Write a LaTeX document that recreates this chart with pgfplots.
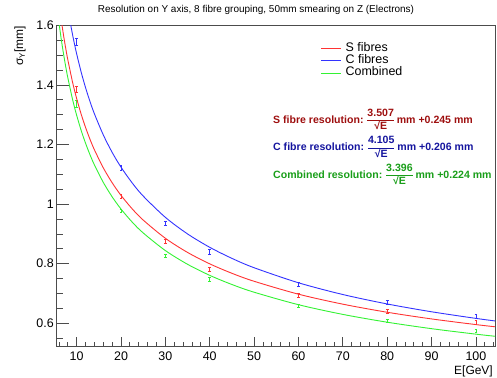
\documentclass[border=0pt]{standalone}
\usepackage{fontspec}
\setmainfont{Liberation Sans}
\usepackage{pgfplots}
\pgfplotsset{compat=1.18}
\definecolor{sdark}{rgb}{0.62,0.06,0.06}
\definecolor{cdark}{rgb}{0.08,0.08,0.62}
\definecolor{gdark}{rgb}{0.1,0.62,0.1}
\definecolor{cred}{rgb}{1,0.2,0.2}
\definecolor{cblue}{rgb}{0.2,0.2,1}
\definecolor{cgreen}{rgb}{0.2,0.95,0.2}
\setlength\arrayrulewidth{1.1bp}
\newcommand\fr[2]{\begin{tabular}[c]{@{}c@{}}#1\\\hline #2\end{tabular}}
\begin{document}
\begin{tikzpicture}
\begin{axis}[
  at={(0,0)}, anchor=south west,
  scale only axis, width=438.3bp, height=321.4bp,
  xmin=5.5, xmax=104.3, ymin=0.5215, ymax=1.6,
  axis line style={draw=black!70, line width=0.8bp},
  tick align=inside, xtick pos=bottom, ytick pos=left,
  xtick={10,20,30,40,50,60,70,80,90,100},
  minor xtick={6,8,...,104},
  ytick={0.6,0.8,1,1.2,1.4,1.6},
  minor ytick={0.55,0.6,...,1.6},
  tick style={draw=black!70, line width=0.8bp},
  major tick length=12bp, minor tick length=6bp,
  xtick style={/pgfplots/major tick length=10bp, /pgfplots/minor tick length=5bp},
  /pgf/number format/assume math mode=true,
  /pgf/number format/fixed,
  ticklabel style={font=\fontsize{12.5}{14}\selectfont},
  yticklabel style={inner sep=0pt, xshift=-2.7bp},
  xticklabel style={inner sep=0pt, yshift=-5bp},
  every axis title shift=0pt,
  title={Resolution on Y axis, 8 fibre grouping, 50mm smearing on Z (Electrons)},
  title style={at={(axis description cs:0.4547,1.0405)}, anchor=base, font=\fontsize{10}{12}\selectfont, inner sep=0pt},
  xlabel={E[GeV]},
  xlabel style={at={(axis description cs:0.9954,-0.088)}, anchor=base east, font=\fontsize{12}{14}\selectfont, inner sep=0pt},
  legend style={draw=none, fill=none, at={(axis description cs:0.602,0.947)}, anchor=north west,
    font=\fontsize{12.5}{12.2}\selectfont, row sep=0pt, column sep=4bp, inner sep=0pt,
    nodes={inner sep=0pt, text height=9bp, text depth=3.2bp}},
  legend cell align=left,
  legend image code/.code={\draw[#1] (0bp,0bp) -- (20bp,0bp);},
  every axis plot/.append style={line width=0.9bp},
]
% data points with error bars
\addplot[draw=none, mark=none, forget plot,
  error bars/.cd, y dir=both, y explicit, error bar style={draw=cred, line width=0.55bp},
  error mark options={rotate=90, mark size=1.4bp, line width=0.55bp, draw=cred}]
  coordinates {(10,1.385) +- (0,0.011) (20,1.025) +- (0,0.007) (30,0.874) +- (0,0.007) (40,0.781) +- (0,0.007) (60,0.695) +- (0,0.006) (80,0.640) +- (0,0.006) (100,0.604) +- (0,0.006)};
\addplot[draw=none, mark=none, forget plot,
  error bars/.cd, y dir=both, y explicit, error bar style={draw=cblue, line width=0.55bp},
  error mark options={rotate=90, mark size=1.4bp, line width=0.55bp, draw=cblue}]
  coordinates {(10,1.545) +- (0,0.013) (20,1.122) +- (0,0.007) (30,0.936) +- (0,0.007) (40,0.840) +- (0,0.007) (60,0.731) +- (0,0.006) (80,0.670) +- (0,0.006) (100,0.623) +- (0,0.007)};
\addplot[draw=none, mark=none, forget plot,
  error bars/.cd, y dir=both, y explicit, error bar style={draw=cgreen, line width=0.55bp},
  error mark options={rotate=90, mark size=1.4bp, line width=0.55bp, draw=cgreen}]
  coordinates {(10,1.336) +- (0,0.011) (20,0.977) +- (0,0.006) (30,0.827) +- (0,0.006) (40,0.747) +- (0,0.006) (60,0.658) +- (0,0.005) (80,0.608) +- (0,0.005) (100,0.575) +- (0,0.005)};
% fitted curves, tabulated
\addplot[cred, smooth, mark=none] coordinates {
 (6.5,1.6206) (7,1.5705) (7.5,1.5256) (8,1.4849) (9,1.4140) (9.5,1.3828) (10,1.3540) (11,1.3024) (12,1.2574) (13,1.2177) (14,1.1823) (16,1.1218) (18,1.0716) (20,1.0292) (22.5,0.9844) (25,0.9464) (30,0.8853) (35,0.8378) (40,0.7995) (45,0.7678) (50,0.7410) (60,0.6977) (70,0.6642) (80,0.6371) (90,0.6147) (100,0.5957) (104.5,0.5881)};
\addlegendentry{S fibres}
\addplot[cblue, smooth, mark=none] coordinates {
 (8.5,1.6140) (9,1.5743) (9.5,1.5378) (10,1.5041) (11,1.4437) (12,1.3910) (13,1.3445) (14,1.3031) (16,1.2323) (18,1.1736) (20,1.1239) (22.5,1.0714) (25,1.0270) (30,0.9555) (35,0.8999) (40,0.8550) (45,0.8179) (50,0.7865) (60,0.7360) (70,0.6966) (80,0.6649) (90,0.6387) (100,0.6165) (104.5,0.6076)};
\addlegendentry{C fibres}
\addplot[cgreen, smooth, mark=none] coordinates {
 (6,1.6104) (6.5,1.5560) (7,1.5076) (7.5,1.4641) (8,1.4247) (9,1.3560) (9.5,1.3258) (10,1.2979) (11,1.2479) (12,1.2044) (13,1.1659) (14,1.1316) (16,1.0730) (18,1.0244) (20,0.9834) (22.5,0.9399) (25,0.9032) (30,0.8440) (35,0.7980) (40,0.7609) (45,0.7302) (50,0.7043) (60,0.6624) (70,0.6299) (80,0.6037) (90,0.5820) (100,0.5636) (104.5,0.5562)};
\addlegendentry{Combined}
% annotations
\node[anchor=base west, inner sep=0pt, text=sdark, font=\fontsize{10.6}{12.5}\selectfont\bfseries]
  at (axis description cs:0.4935,0.695) {S fibre resolution: \fr{3.507}{√E} mm +0.245 mm};
\node[anchor=base west, inner sep=0pt, text=cdark, font=\fontsize{10.6}{12.5}\selectfont\bfseries]
  at (axis description cs:0.4935,0.609) {C fibre resolution: \fr{4.105}{√E} mm +0.206 mm};
\node[anchor=base west, inner sep=0pt, text=gdark, font=\fontsize{10.6}{12.5}\selectfont\bfseries]
  at (axis description cs:0.4935,0.524) {Combined resolution: \fr{3.396}{√E} mm +0.224 mm};
\end{axis}
% y label (axis frame lower-left corner is at the origin)
\node[rotate=90, anchor=base east, inner sep=0pt, font=\fontsize{12}{14}\selectfont]
  at (-33.7bp,320.8bp) {σ\textsubscript{Y}[mm]};
\pgfresetboundingbox
\path[use as bounding box] (-56.7bp,-31.3bp) rectangle (440.3bp,346.7bp);
\end{tikzpicture}
\end{document}
